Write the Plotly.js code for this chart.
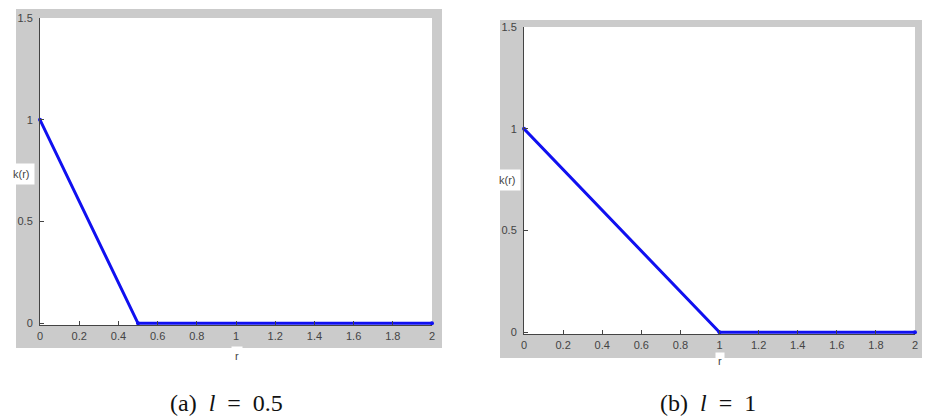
<!DOCTYPE html>
<html>
<head>
<meta charset="utf-8">
<script src="https://cdn.plot.ly/plotly-3.0.1.min.js"></script>
<style>html,body{margin:0;padding:0;background:#fff}#chart{width:928px;height:417px}</style>
</head>
<body>
<div id="chart"></div>
<script>
// Data (vertices of k(r))
var rA = [0, 0.5, 2];
var kA = [1, 0, 0];
var rB = [0, 1, 2];
var kB = [1, 0, 0];
var xTicks = [0, 0.2, 0.4, 0.6, 0.8, 1, 1.2, 1.4, 1.6, 1.8, 2];
var xTickText = ["0", "0.2", "0.4", "0.6", "0.8", "1", "1.2", "1.4", "1.6", "1.8", "2"];
var yTicks = [0, 0.5, 1, 1.5];
var yTickText = ["0", "0.5", "1", "1.5"];
var captions = ["(a)&nbsp;&nbsp;<i>l</i>&nbsp;&nbsp;=&nbsp;&nbsp;0.5", "(b)&nbsp;&nbsp;<i>l</i>&nbsp;&nbsp;=&nbsp;&nbsp;1"];

var W = 928, H = 417;
function px(x) { return x / W; }
function py(y) { return 1 - y / H; }

var blue = "#1010f0";
var traces = [
  {x: rA, y: kA, xaxis: "x", yaxis: "y", mode: "lines+markers", line: {color: blue, width: 3},
   marker: {color: blue, size: 4}, cliponaxis: false, hoverinfo: "skip"},
  {x: rB, y: kB, xaxis: "x2", yaxis: "y2", mode: "lines+markers", line: {color: blue, width: 3},
   marker: {color: blue, size: 4}, cliponaxis: false, hoverinfo: "skip"}
];

var tickFont = {family: "Liberation Sans, Arial", size: 11, color: "#444"};
function xax(dom, anchor) {
  return {domain: dom, anchor: anchor, range: [0, 2], tickvals: xTicks, ticktext: xTickText,
    ticks: "inside", ticklen: 4, tickcolor: "#444", showline: true, linecolor: "#444", linewidth: 1,
    showgrid: false, zeroline: false, tickfont: tickFont, ticklabelstandoff: 1, fixedrange: true};
}
function yax(dom, anchor) {
  return {domain: dom, anchor: anchor, range: [-0.008, 1.5], tickvals: yTicks, ticktext: yTickText,
    ticks: "inside", ticklen: 4, tickcolor: "#444", showline: true, linecolor: "#444", linewidth: 1,
    showgrid: false, zeroline: false, tickfont: tickFont, ticklabelstandoff: 4, fixedrange: true};
}

function ann(text, x, y, extra) {
  var a = {text: text, xref: "paper", yref: "paper", x: px(x), y: py(y), showarrow: false,
    xanchor: "center", yanchor: "middle", font: tickFont};
  for (var k in extra) a[k] = extra[k];
  return a;
}

var layout = {
  width: W, height: H,
  margin: {l: 0, r: 0, t: 0, b: 0},
  paper_bgcolor: "#ffffff", plot_bgcolor: "#ffffff",
  showlegend: false,
  xaxis: xax([px(40), px(432)], "y"),
  yaxis: yax([py(325), py(18)], "x"),
  xaxis2: xax([px(524), px(915)], "y2"),
  yaxis2: yax([py(334), py(27)], "x2"),
  shapes: [
    {type: "rect", xref: "paper", yref: "paper", x0: px(16), x1: px(442), y0: py(348), y1: py(9),
     fillcolor: "#cbcbcb", line: {width: 0}, layer: "below"},
    {type: "rect", xref: "paper", yref: "paper", x0: px(40), x1: px(432), y0: py(325), y1: py(18),
     fillcolor: "#ffffff", line: {width: 0}, layer: "below"},
    {type: "rect", xref: "paper", yref: "paper", x0: px(500), x1: px(922), y0: py(358), y1: py(20),
     fillcolor: "#cbcbcb", line: {width: 0}, layer: "below"},
    {type: "rect", xref: "paper", yref: "paper", x0: px(524), x1: px(915), y0: py(334), y1: py(27),
     fillcolor: "#ffffff", line: {width: 0}, layer: "below"}
  ],
  annotations: [
    ann("k(r)", 21, 174, {bgcolor: "#ffffff", borderpad: 4}),
    ann("k(r)", 507, 180, {bgcolor: "#ffffff", borderpad: 4}),
    ann("r", 237, 356, {bgcolor: "#ffffff", borderpad: 3}),
    ann("r", 720, 361, {bgcolor: "#ffffff", borderpad: 2}),
    ann(captions[0], 226, 403, {font: {family: "Liberation Serif, Times New Roman, serif", size: 24, color: "#111"}}),
    ann(captions[1], 708, 403, {font: {family: "Liberation Serif, Times New Roman, serif", size: 24, color: "#111"}})
  ]
};

Plotly.newPlot("chart", traces, layout, {displayModeBar: false, staticPlot: true});
</script>
</body>
</html>
